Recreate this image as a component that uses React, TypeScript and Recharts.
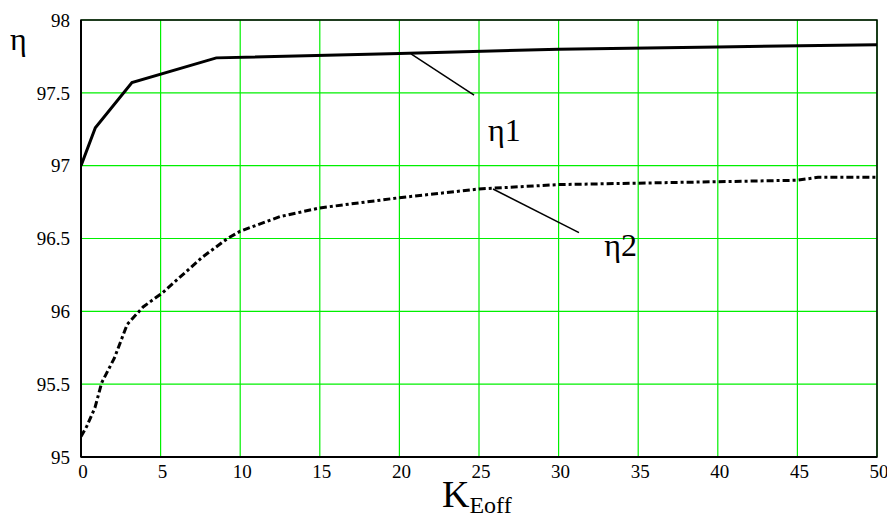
import {
  LineChart,
  Line,
  XAxis,
  YAxis,
  CartesianGrid,
  ReferenceLine,
  ReferenceDot,
  ReferenceArea,
} from "recharts";

const xTicks = [0, 5, 10, 15, 20, 25, 30, 35, 40, 45, 50];
const yTicks = [95, 95.5, 96, 96.5, 97, 97.5, 98];

// η1 (solid)
const eta1K = [0, 0.9, 3.2, 8.5, 20, 30, 40, 50];
const eta1V = [97.0, 97.26, 97.57, 97.74, 97.77, 97.8, 97.815, 97.83];

// η2 (dash-dot)
const eta2K = [0, 0.36, 0.88, 1.3, 2.1, 2.9, 3.9, 5.15, 7.6, 9.2, 10, 12.5, 15, 20, 25, 30, 35, 40, 45, 46.3, 50];
const eta2V = [
  95.14, 95.21, 95.34, 95.51, 95.68, 95.91, 96.03, 96.13, 96.37, 96.5, 96.55,
  96.65, 96.71, 96.78, 96.84, 96.87, 96.88, 96.89, 96.9, 96.92, 96.92,
];

const eta1 = eta1K.map((k, i) => ({ k, v: eta1V[i] }));
const eta2 = eta2K.map((k, i) => ({ k, v: eta2V[i] }));

const FONT = "Liberation Serif";

export default function App() {
  return (
    <div style={{ position: "absolute", left: 0, top: 0, fontFamily: FONT }}>
      <LineChart
        width={887}
        height={521}
        margin={{ top: 20, right: 10, bottom: 34, left: 21 }}
        style={{ fontFamily: FONT }}
      >
        <CartesianGrid stroke="#00f000" strokeWidth={1.2} />
        <XAxis
          type="number"
          dataKey="k"
          domain={[0, 50]}
          ticks={xTicks}
          allowDataOverflow
          tickLine={false}
          axisLine={{ stroke: "#000", strokeWidth: 2 }}
          tick={{ fill: "#000", fontSize: 19, style: { fontFamily: FONT }, dx: 2 }}
          height={30}
        />
        <YAxis
          type="number"
          domain={[95, 98]}
          ticks={yTicks}
          allowDataOverflow
          tickLine={false}
          axisLine={{ stroke: "#000", strokeWidth: 2 }}
          tick={{ fill: "#000", fontSize: 19, style: { fontFamily: FONT }, dx: -3 }}
          width={60}
        />
        <ReferenceArea
          x1={0}
          x2={50}
          y1={95}
          y2={98}
          fill="none"
          stroke="#000"
          strokeWidth={1.5}
          ifOverflow="visible"
        />
        <Line
          data={eta1}
          dataKey="v"
          type="linear"
          stroke="#000"
          strokeWidth={3}
          dot={false}
          isAnimationActive={false}
        />
        <Line
          data={eta2}
          dataKey="v"
          type="linear"
          stroke="#000"
          strokeWidth={3}
          strokeDasharray="7 3 3 3"
          dot={false}
          isAnimationActive={false}
        />
        <ReferenceLine
          segment={[
            { x: 20.73, y: 97.767 },
            { x: 24.69, y: 97.485 },
          ]}
          stroke="#000"
          strokeWidth={1.5}
        />
        <ReferenceLine
          segment={[
            { x: 25.88, y: 96.84 },
            { x: 31.28, y: 96.54 },
          ]}
          stroke="#000"
          strokeWidth={1.5}
        />
        <ReferenceDot
          x={26.6}
          y={97.25}
          r={0}
          fill="none"
          stroke="none"
          label={{ value: "η1", position: "center", fontSize: 32, fill: "#000", style: { fontFamily: FONT } }}
        />
        <ReferenceDot
          x={33.9}
          y={96.46}
          r={0}
          fill="none"
          stroke="none"
          label={{ value: "η2", position: "center", fontSize: 32, fill: "#000", style: { fontFamily: FONT } }}
        />
        <text x={10} y={50} fontSize={32} style={{ fontFamily: FONT }} fill="#000">
          η
        </text>
        <text x={442} y={507} fontSize={38} style={{ fontFamily: FONT }} fill="#000">
          K
          <tspan fontSize={24} dy={6}>
            Eoff
          </tspan>
        </text>
      </LineChart>
    </div>
  );
}
